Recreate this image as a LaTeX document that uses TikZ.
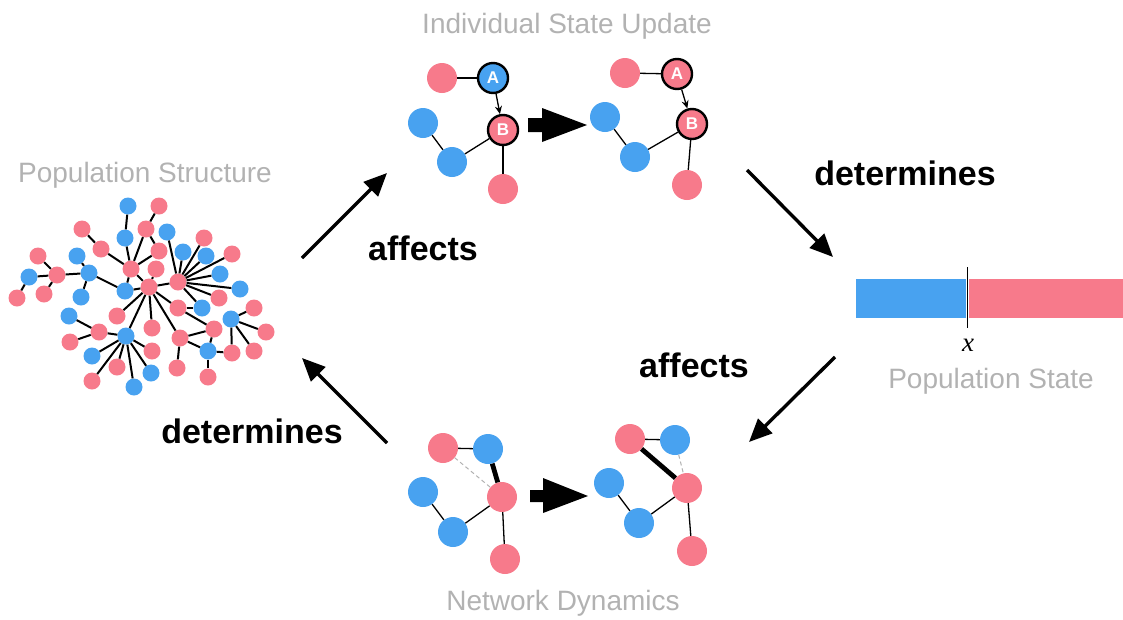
\documentclass[tikz,border=0pt]{standalone}
\usepackage{fontspec}
\setmainfont{Liberation Sans}
\newfontfamily\varfont{Liberation Serif}
\usetikzlibrary{arrows.meta}

\definecolor{nodeblue}{RGB}{72,162,240}
\definecolor{nodepink}{RGB}{247,122,139}
\definecolor{titlegray}{RGB}{178,178,178}

\tikzset{
  net/.style={circle, inner sep=0pt, minimum size=17pt},
  netedge/.style={line width=2pt, black},
  bignode/.style={circle, inner sep=0pt, minimum size=30pt},
  marked/.style={bignode, draw=black, line width=2.4pt, text=white,
    font=\fontsize{17}{17}\selectfont\bfseries},
  thinedge/.style={line width=1.3pt, black},
  boldedge/.style={line width=4.8pt, black},
  ghostedge/.style={line width=1pt, dashed, dash pattern=on 4pt off 3pt, titlegray},
  cyclearrow/.style={line width=3.4pt, black,
    -{Triangle[length=23pt,width=20pt]}},
  title/.style={text=titlegray, font=\fontsize{28}{30}\selectfont, anchor=base},
  verb/.style={text=black, font=\fontsize{34}{36}\selectfont\bfseries, anchor=base},
  blockarrow/.style={fill=black, draw=none},
}

\begin{document}
\begin{tikzpicture}[x=1pt, y=-1pt]
\useasboundingbox (0,0) rectangle (1123,619);

% ---------- population structure network ----------
\foreach \i/\x/\y/\c in {
  1/128/206/nodeblue, 2/159/206/nodepink, 3/146/229/nodepink, 4/125/238/nodeblue,
  5/167/232/nodeblue, 6/82/229/nodepink, 7/101/249/nodepink, 8/159/251/nodepink,
  9/204/238/nodepink, 10/183/252/nodeblue, 11/206/256/nodeblue, 12/232/254/nodepink,
  13/38/256/nodepink, 14/77/256/nodeblue, 15/131/269/nodepink, 16/156/269/nodepink,
  17/89/273/nodeblue, 18/57/275/nodepink, 19/29/277/nodeblue, 20/178/282/nodepink,
  21/220/274/nodeblue, 22/149/287/nodepink, 23/125/291/nodeblue, 24/240/289/nodeblue,
  25/17/298/nodepink, 26/44/294/nodepink, 27/81/297/nodeblue, 28/219/298/nodepink,
  29/178/308/nodepink, 30/202/308/nodeblue, 31/254/308/nodepink, 32/117/316/nodepink,
  33/69/316/nodeblue, 34/231/319/nodeblue, 35/214/329/nodepink, 36/99/332/nodepink,
  37/126/336/nodeblue, 38/152/328/nodepink, 39/266/332/nodepink, 40/70/342/nodepink,
  41/180/338/nodepink, 42/152/351/nodepink, 43/208/351/nodeblue, 44/232/353/nodepink,
  45/254/351/nodepink, 46/92/356/nodeblue, 47/117/367/nodepink, 48/177/368/nodepink,
  49/151/373/nodeblue, 50/92/381/nodepink, 51/134/387/nodeblue, 52/208/377/nodepink}
  \node[net, fill=\c] (n\i) at (\x,\y) {};

\foreach \a/\b in {
  1/4, 2/3, 3/15, 3/8, 4/15, 6/7, 7/15, 8/15, 15/23, 15/22, 16/22,
  5/20, 10/20, 11/20, 9/20, 12/20, 21/20, 24/20, 28/20, 30/20, 22/20,
  13/18, 19/18, 26/18, 25/19, 18/17, 14/17, 27/17, 17/23, 23/22,
  22/32, 22/37, 22/38, 22/29, 22/41, 29/30, 29/35, 41/35, 41/43, 41/48,
  35/43, 43/44, 43/52, 34/31, 34/39, 34/45, 34/44,
  33/36, 40/36, 36/37, 37/42, 37/46, 37/47, 37/50, 37/51, 37/49}
  \draw[netedge] (n\a) -- (n\b);

\node[title] (tstruct) at (145,182) {Population Structure};

% ---------- individual state update ----------
\node[title] (tupdate) at (567,33) {Individual State Update};

\node[bignode, fill=nodepink] (ua1) at (442,78) {};
\node[marked, fill=nodeblue] (uA) at (493,78) {A};
\node[bignode, fill=nodeblue] (ub1) at (423,123) {};
\node[marked, fill=nodepink] (uB) at (503,130) {B};
\node[bignode, fill=nodeblue] (ub2) at (452,162) {};
\node[bignode, fill=nodepink] (ua2) at (503,189) {};
\draw[thinedge] (ua1) -- (uA);
\draw[thinedge, -{Stealth[length=8pt,width=7pt]}] (uA) -- (uB);
\draw[thinedge] (ub1) -- (ub2);
\draw[thinedge] (ub2) -- (uB);
\draw[thinedge] (uB) -- (ua2);

\fill[blockarrow] (528,118) -- (542,118) -- (542,108) -- (587,125)
  -- (542,142) -- (542,132) -- (528,132) -- cycle;

\node[bignode, fill=nodepink] (va1) at (625,73) {};
\node[marked, fill=nodepink] (vA) at (677,74) {A};
\node[bignode, fill=nodeblue] (vb1) at (605,117) {};
\node[marked, fill=nodepink] (vB) at (692,124) {B};
\node[bignode, fill=nodeblue] (vb2) at (635,157) {};
\node[bignode, fill=nodepink] (va2) at (687,185) {};
\draw[thinedge] (va1) -- (vA);
\draw[thinedge, -{Stealth[length=8pt,width=7pt]}] (vA) -- (vB);
\draw[thinedge] (vb1) -- (vb2);
\draw[thinedge] (vb2) -- (vB);
\draw[thinedge] (vB) -- (va2);

% ---------- population state ----------
\fill[nodeblue] (856,279) rectangle (966,318);
\fill[nodepink] (969,279) rectangle (1123,318);
\coordinate (xtop) at (967.5,267);
\coordinate (xbot) at (967.5,328);
\draw[line width=1.3pt] (xtop) -- (xbot);
\node[anchor=base, font=\varfont\itshape\fontsize{27}{27}\selectfont] (xlab) at (968,351) {x};
\node[title] (tstate) at (991,388) {Population State};

% ---------- network dynamics ----------
\node[title] (tdyn) at (563,610) {Network Dynamics};

\node[bignode, fill=nodepink] (da1) at (443,448) {};
\node[bignode, fill=nodeblue] (db1) at (488,449) {};
\node[bignode, fill=nodeblue] (db2) at (423,492) {};
\node[bignode, fill=nodepink] (da2) at (502,497) {};
\node[bignode, fill=nodeblue] (db3) at (453,532) {};
\node[bignode, fill=nodepink] (da3) at (505,559) {};
\draw[thinedge] (da1) -- (db1);
\draw[ghostedge] (da1) -- (da2);
\draw[boldedge] (db1) -- (da2);
\draw[thinedge] (db2) -- (db3);
\draw[thinedge] (db3) -- (da2);
\draw[thinedge] (da2) -- (da3);

\fill[blockarrow] (530,490) -- (543,490) -- (543,478) -- (588,496)
  -- (543,513) -- (543,502) -- (530,502) -- cycle;

\node[bignode, fill=nodepink] (ea1) at (630,439) {};
\node[bignode, fill=nodeblue] (eb1) at (675,440) {};
\node[bignode, fill=nodeblue] (eb2) at (609,483) {};
\node[bignode, fill=nodepink] (ea2) at (687,488) {};
\node[bignode, fill=nodeblue] (eb3) at (639,523) {};
\node[bignode, fill=nodepink] (ea3) at (692,551) {};
\draw[thinedge] (ea1) -- (eb1);
\draw[boldedge] (ea1) -- (ea2);
\draw[ghostedge] (eb1) -- (ea2);
\draw[thinedge] (eb2) -- (eb3);
\draw[thinedge] (eb3) -- (ea2);
\draw[thinedge] (ea2) -- (ea3);

% ---------- cycle arrows and labels ----------
\coordinate (c1s) at (302,258);
\coordinate (c1e) at (387,173);
\coordinate (c2s) at (747,170);
\coordinate (c2e) at (833,257);
\coordinate (c3s) at (835,357);
\coordinate (c3e) at (749,442);
\coordinate (c4s) at (387,443);
\coordinate (c4e) at (302,358);
\draw[cyclearrow] (c1s) -- (c1e);
\draw[cyclearrow] (c2s) -- (c2e);
\draw[cyclearrow] (c3s) -- (c3e);
\draw[cyclearrow] (c4s) -- (c4e);

\node[verb] (l1) at (423,260) {affects};
\node[verb] (l2) at (905,185) {determines};
\node[verb] (l3) at (694,377) {affects};
\node[verb] (l4) at (252,443) {determines};
\end{tikzpicture}
\end{document}
